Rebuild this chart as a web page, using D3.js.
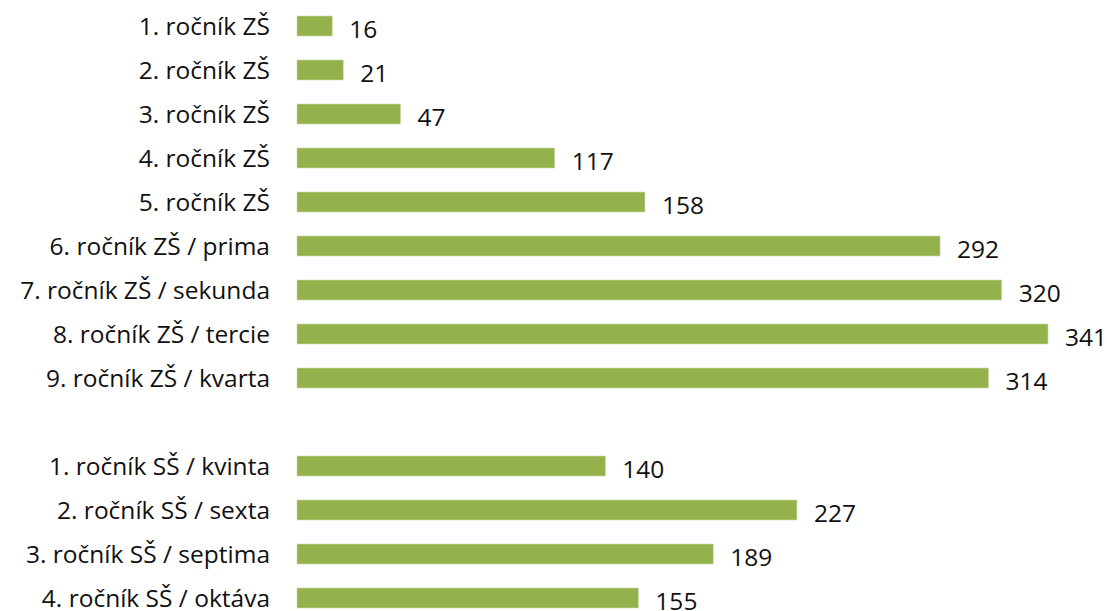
<!DOCTYPE html>
<html>
<head>
<meta charset="utf-8">
<script src="https://cdn.jsdelivr.net/npm/d3@7"></script>
<style>
  html, body { margin: 0; padding: 0; background: #ffffff; overflow: hidden; }
  svg text { font-family: "Open Sans", "Noto Sans", sans-serif; fill: #111111; }
</style>
</head>
<body>
<svg id="chart" width="1107" height="611"></svg>
<script>
// Grade levels (an empty slot separates primary and secondary school)
const categories = [
  "1. ročník ZŠ", "2. ročník ZŠ", "3. ročník ZŠ", "4. ročník ZŠ", "5. ročník ZŠ",
  "6. ročník ZŠ / prima", "7. ročník ZŠ / sekunda", "8. ročník ZŠ / tercie", "9. ročník ZŠ / kvarta",
  "",
  "1. ročník SŠ / kvinta", "2. ročník SŠ / sexta", "3. ročník SŠ / septima", "4. ročník SŠ / oktáva"
];
const values = [16, 21, 47, 117, 158, 292, 320, 341, 314, null, 140, 227, 189, 155];

const svg = d3.select("#chart");
const x0 = 297, rowPitch = 44, firstCenter = 26;

const x = d3.scaleLinear().domain([0, 341]).range([x0, 1048]);
const keys = categories.map((c, i) => i);
const y = d3.scaleBand()
  .domain(keys)
  .range([firstCenter - rowPitch / 2, firstCenter - rowPitch / 2 + rowPitch * keys.length])
  .paddingInner(24 / 44)
  .paddingOuter(12 / 44);

const rows = keys.filter(i => values[i] != null);

// Bars
svg.append("g").selectAll("rect")
  .data(rows)
  .join("rect")
  .attr("x", x(0))
  .attr("y", i => y(i))
  .attr("width", i => x(values[i]) - x(0))
  .attr("height", y.bandwidth())
  .attr("fill", "#94b24c")
  .attr("stroke", "#cddbb0")
  .attr("stroke-width", 0.6);

// Category labels
svg.append("g").selectAll("text")
  .data(rows)
  .join("text")
  .attr("x", 270)
  .attr("y", i => y(i) + y.bandwidth() / 2)
  .attr("dy", "0.35em")
  .attr("text-anchor", "end")
  .attr("font-size", 24.5)
  .text(i => categories[i]);

// Value labels
svg.append("g").selectAll("text")
  .data(rows)
  .join("text")
  .attr("x", i => x(values[i]) + 17)
  .attr("y", i => y(i) + y.bandwidth() / 2 + 3)
  .attr("dy", "0.35em")
  .attr("font-size", 24.5)
  .text(i => values[i]);
</script>
</body>
</html>
